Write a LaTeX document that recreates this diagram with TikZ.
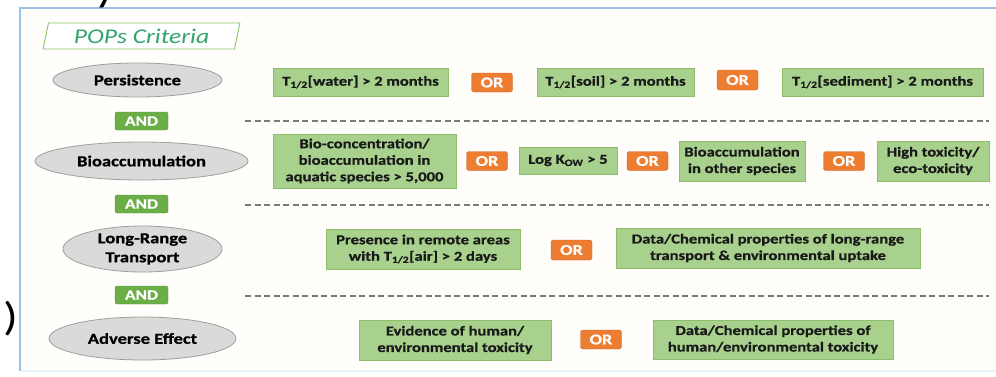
\documentclass[tikz,border=0pt]{standalone}
\usepackage{fontspec}
\setmainfont{Carlito}[FakeStretch=1.22, BoldFeatures={FakeBold=0.8}]
\usetikzlibrary{shapes.geometric, positioning}
\definecolor{boxgreen}{HTML}{A9D18E}
\definecolor{boxline}{HTML}{8DBE6C}
\definecolor{andgreen}{HTML}{6BAE47}
\definecolor{andline}{HTML}{5A9A3A}
\definecolor{orfill}{HTML}{ED7D31}
\definecolor{orline}{HTML}{C9652A}
\definecolor{ellfill}{HTML}{DADADA}
\definecolor{ellline}{HTML}{9E9E9E}
\definecolor{titlegreen}{HTML}{32A46C}
\definecolor{titleline}{HTML}{8CC56A}
\definecolor{frameblue}{HTML}{9DBFE3}
\definecolor{framefill}{HTML}{FFFEFA}
\definecolor{framelow}{HTML}{E2F6FB}
\definecolor{sepgray}{HTML}{7A7A7A}

\begin{document}
\begin{tikzpicture}[x=1pt, y=-1pt,
    crit/.style={ellipse, draw=ellline, fill=ellfill, line width=0.8pt, inner sep=0pt,
        align=center, font=\fontsize{15.2}{19}\selectfont\bfseries},
    cond/.style={rectangle, draw=boxline, fill=boxgreen, line width=0.6pt, inner sep=0pt,
        align=center, text=black!90, font=\fontsize{13.6}{16.5}\selectfont\bfseries},
    orbox/.style={rectangle, rounded corners=2.5pt, draw=orline, fill=orfill, text=white,
        minimum width=41pt, minimum height=19pt, inner sep=0pt,
        font=\fontsize{15}{15}\selectfont\bfseries},
    andbox/.style={rectangle, rounded corners=2pt, draw=andline, fill=andgreen, text=white,
        minimum width=53pt, minimum height=18pt, inner sep=0pt,
        font=\fontsize{14.3}{14.3}\selectfont\bfseries},
    sepline/.style={draw=sepgray, line width=1.1pt, dash pattern=on 6pt off 3.5pt}]
    \useasboundingbox (0,0) rectangle (996,376);
    \clip (0,0) rectangle (996,376);

    % 外框
    \fill[framefill] (20,8) rectangle (1000,371);
    \draw[framelow, line width=2pt] (20,371) -- (1000,371);
    \draw[frameblue, line width=2pt] (20,371) -- (20,8) -- (1000,8);

    % 边上残字
    \node[anchor=base east, inner sep=0pt, font=\fontsize{40}{40}\selectfont] (cutl) at (18.5,330) {n)};
    \node[anchor=base, inner sep=0pt, font=\fontsize{40}{40}\selectfont] (cutt) at (106,1) {y};

    % 标题
    \node[trapezium, trapezium left angle=75, trapezium right angle=105, trapezium stretches=true,
        draw=titleline, line width=0.9pt, fill=white, minimum width=197pt, minimum height=26pt,
        inner sep=0pt, text=titlegreen, font=\fontsize{21}{21}\selectfont\itshape]
        (title) at (141.5,36) {POPs Criteria};

    % 左侧判据
    \node[crit, minimum width=169pt, minimum height=34pt] (persist) at (137.5,80) {Persistence};
    \node[crit, minimum width=213pt, minimum height=38pt] (bioacc) at (141.5,161) {Bioaccumulation};
    \node[crit, minimum width=159pt, minimum height=46pt] (lrt) at (142.5,249) {Long-Range\\Transport};
    \node[crit, minimum width=187pt, minimum height=43pt] (adverse) at (142.5,338.5) {Adverse Effect};

    % AND 和分隔虚线
    \foreach \y/\n in {121/and1, 204/and2, 295/and3} {
        \node[andbox] (\n) at (141.5,\y) {AND};
    }
    \foreach \y in {121, 205, 296} {
        \draw[sepline] (245,\y) -- (989,\y);
    }

    % 第一行
    \node[cond, minimum width=175pt, minimum height=28pt] (water) at (360.5,82) {T\textsubscript{1/2}[water] > 2 months};
    \node[orbox] (or11) at (492,82.5) {OR};
    \node[cond, minimum width=157pt, minimum height=28pt] (soil) at (615.5,82) {T\textsubscript{1/2}[soil] > 2 months};
    \node[orbox, minimum height=20pt] (or12) at (737.5,80) {OR};
    \node[cond, minimum width=201pt, minimum height=28pt] (sediment) at (882.5,82) {T\textsubscript{1/2}[sediment] > 2 months};

    % 第二行
    \node[cond, minimum width=183pt, minimum height=54pt] (bcf) at (364.5,161) {Bio-concentration/\\bioaccumulation in\\aquatic species > 5,000};
    \node[orbox] (or21) at (487,161) {OR};
    \node[cond, minimum width=98pt, minimum height=27pt] (kow) at (568,160.5) {Log K\textsubscript{OW} > 5};
    \node[orbox] (or22) at (647.5,161) {OR};
    \node[cond, minimum width=126pt, minimum height=40pt] (other) at (742,161) {Bioaccumulation\\in other species};
    \node[orbox] (or23) at (844,161) {OR};
    \node[cond, minimum width=112pt, minimum height=40pt] (hightox) at (933,161) {High toxicity/\\eco-toxicity};

    % 第三行
    \node[cond, minimum width=194pt, minimum height=40pt] (remote) at (423,249) {Presence in remote areas\\with T\textsubscript{1/2}[air] > 2 days};
    \node[orbox, minimum height=20pt] (or31) at (571.5,250) {OR};
    \node[cond, minimum width=304pt, minimum height=40pt] (lrdata) at (768,248) {Data/Chemical properties of long-range\\transport \& environmental uptake};

    % 第四行
    \node[cond, minimum width=192pt, minimum height=40pt] (evidence) at (455,340) {Evidence of human/\\environmental toxicity};
    \node[orbox] (or41) at (601,339.5) {OR};
    \node[cond, minimum width=240pt, minimum height=39pt] (toxdata) at (773,339.5) {Data/Chemical properties of\\human/environmental toxicity};
\end{tikzpicture}
\end{document}
